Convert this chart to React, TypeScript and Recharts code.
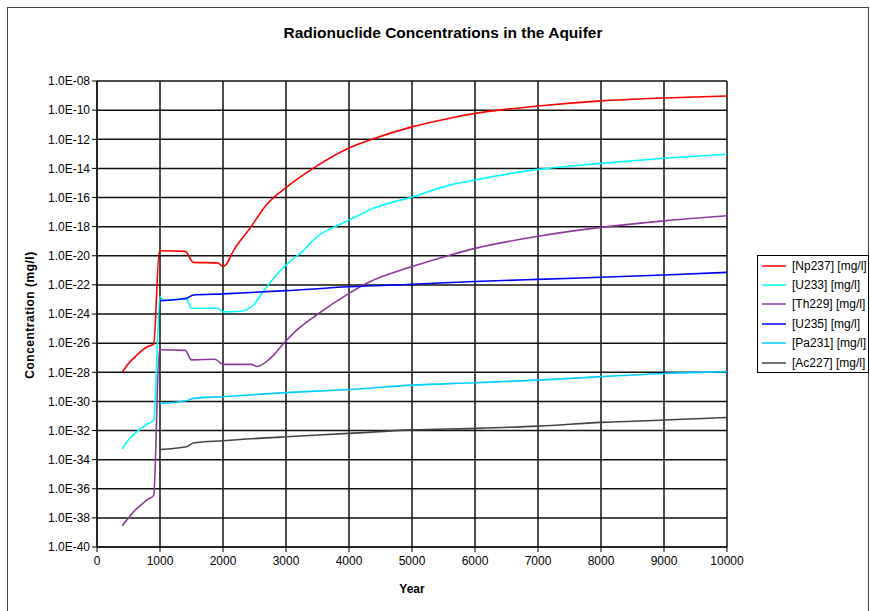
import React from 'react';
import { LineChart, Line, XAxis, YAxis, CartesianGrid } from 'recharts';

// ---- Data ----
const np237Years = [400, 500, 600, 700, 800, 900, 990, 1400, 1530, 1920, 2000, 2050, 2160, 2430, 2690, 3020, 3430, 4000, 4390, 5000, 5600, 6000, 7000, 8000, 9000, 10000];
const np237Values = [1.0e-28, 4.0e-28, 1.1e-27, 2.8e-27, 5.6e-27, 8.9e-27, 2.2e-20, 2.0e-20, 3.5e-21, 3.2e-21, 1.8e-21, 2.5e-21, 2.0e-20, 7.9e-19, 3.2e-17, 5.6e-16, 1.0e-14, 2.5e-13, 1.1e-12, 7.1e-12, 2.8e-11, 6.0e-11, 1.9e-10, 4.3e-10, 6.8e-10, 9.3e-10];

const u233Years = [400, 500, 600, 700, 800, 900, 1000, 1050, 1420, 1500, 1920, 2000, 2300, 2480, 2640, 2850, 3060, 3250, 3490, 3800, 4000, 4390, 5000, 5600, 6000, 7000, 8000, 9000, 10000];
const u233Values = [5.4e-34, 2.2e-33, 6.3e-33, 1.4e-32, 2.8e-32, 5.0e-32, 1.6e-23, 8.9e-24, 1.1e-23, 2.5e-24, 2.5e-24, 1.4e-24, 1.6e-24, 4.0e-24, 3.5e-23, 5.0e-22, 4.0e-21, 1.8e-20, 2.0e-19, 1.1e-18, 2.8e-18, 1.8e-17, 1.1e-16, 7.1e-16, 1.6e-15, 8.5e-15, 2.2e-14, 4.9e-14, 9.3e-14];

const th229Years = [400, 500, 600, 700, 800, 900, 990, 1400, 1500, 1870, 2000, 2450, 2540, 2750, 2990, 3170, 3490, 4000, 4280, 5000, 5600, 6000, 7000, 8000, 9000, 10000];
const th229Values = [2.9e-39, 1.0e-38, 3.2e-38, 7.9e-38, 1.8e-37, 3.5e-37, 3.5e-27, 3.2e-27, 7.1e-28, 7.9e-28, 3.5e-28, 3.5e-28, 2.5e-28, 8.9e-28, 1.3e-26, 7.9e-26, 8.9e-25, 2.6e-23, 1.3e-22, 1.8e-21, 1.1e-20, 3.2e-20, 2.2e-19, 8.9e-19, 2.5e-18, 5.6e-18];

const u235Years = [1000, 1420, 1530, 2000, 3000, 4000, 5000, 6000, 7000, 8000, 9000, 10000];
const u235Values = [8.1e-24, 1.2e-23, 2.0e-23, 2.4e-23, 4.0e-23, 7.4e-23, 1.1e-22, 1.7e-22, 2.4e-22, 3.3e-22, 4.8e-22, 7.2e-22];

const pa231Years = [1000, 1420, 1530, 2000, 3000, 4000, 5000, 6000, 7000, 8000, 9000, 10000];
const pa231Values = [7.2e-31, 1.1e-30, 1.6e-30, 2.1e-30, 4.0e-30, 6.6e-30, 1.3e-29, 1.9e-29, 2.9e-29, 5.0e-29, 8.3e-29, 1.1e-28];

const ac227Years = [1000, 1420, 1530, 2000, 3000, 4000, 5000, 6000, 7000, 8000, 9000, 10000];
const ac227Values = [5.0e-34, 7.6e-34, 1.4e-33, 2.0e-33, 3.7e-33, 6.3e-33, 1.1e-32, 1.4e-32, 2.0e-32, 3.6e-32, 5.2e-32, 7.9e-32];

const xTicks = [0, 1000, 2000, 3000, 4000, 5000, 6000, 7000, 8000, 9000, 10000];
const yTicks = [1e-8, 1e-10, 1e-12, 1e-14, 1e-16, 1e-18, 1e-20, 1e-22, 1e-24, 1e-26, 1e-28, 1e-30, 1e-32, 1e-34, 1e-36, 1e-38, 1e-40];

const seriesNames = ['[Np237] [mg/l]', '[U233] [mg/l]', '[Th229] [mg/l]', '[U235] [mg/l]', '[Pa231] [mg/l]', '[Ac227] [mg/l]'];
const seriesColors = ['#ff0000', '#00ffff', '#8b3a9b', '#0000ff', '#00ccff', '#444444'];

const toPoints = (xs: number[], ys: number[]) => xs.map((x, i) => ({ x, y: ys[i] }));

const series = [
  toPoints(np237Years, np237Values),
  toPoints(u233Years, u233Values),
  toPoints(th229Years, th229Values),
  toPoints(u235Years, u235Values),
  toPoints(pa231Years, pa231Values),
  toPoints(ac227Years, ac227Values),
];

const FONT = '"Liberation Sans", Arial, sans-serif';

const fmtY = (v: number) => {
  const e = Math.round(Math.log10(v));
  const sign = e < 0 ? '-' : '+';
  return `1.0E${sign}${String(Math.abs(e)).padStart(2, '0')}`;
};

export default function App() {
  return (
    <div
      style={{
        position: 'absolute',
        left: 7,
        top: 7,
        width: 860,
        height: 603,
        border: '1px solid #444',
        borderBottom: 'none',
        background: '#fff',
        fontFamily: FONT,
      }}
    >
      <div
        style={{
          position: 'absolute',
          left: 0,
          top: 16,
          width: 870,
          textAlign: 'center',
          fontWeight: 'bold',
          fontSize: 15.5,
          color: '#000',
        }}
      >
        Radionuclide Concentrations in the Aquifer
      </div>
      <div
        style={{
          position: 'absolute',
          left: 22 - 100,
          top: 307 - 8,
          width: 200,
          textAlign: 'center',
          fontWeight: 'bold',
          fontSize: 12,
          letterSpacing: 0.5,
          transform: 'rotate(-90deg)',
          color: '#000',
          lineHeight: '16px',
        }}
      >
        Concentration (mg/l)
      </div>
      <div
        style={{
          position: 'absolute',
          left: 404 - 50,
          top: 574,
          width: 100,
          textAlign: 'center',
          fontWeight: 'bold',
          fontSize: 12,
          color: '#000',
        }}
      >
        Year
      </div>
      <div
        style={{
          position: 'absolute',
          left: 749,
          top: 247,
          width: 112,
          border: '1px solid #000',
          background: '#fff',
          fontFamily: FONT,
          fontSize: 12,
          color: '#000',
          boxSizing: 'border-box',
          zIndex: 2,
        }}
      >
        {seriesNames.map((n, i) => (
          <div key={n} style={{ height: 19.4, display: 'flex', alignItems: 'center', whiteSpace: 'nowrap' }}>
            <svg width={30} height={6} style={{ marginLeft: 4, flex: 'none' }}>
              <line x1={0} y1={3} x2={24} y2={3} stroke={seriesColors[i]} strokeWidth={1.5} />
            </svg>
            <span>{n}</span>
          </div>
        ))}
      </div>
      <LineChart
        width={860}
        height={603}
        margin={{ top: 73, right: 141, bottom: 34, left: 0 }}
      >
        <CartesianGrid stroke="#111" strokeWidth={1.5} />
        <XAxis
          type="number"
          dataKey="x"
          domain={[0, 10000]}
          ticks={xTicks}
          interval={0}
          height={30}
          allowDataOverflow
          stroke="#000"
          tickSize={5}
          tick={{ fontSize: 12, fill: '#000', fontFamily: FONT }}
          tickMargin={4}
        />
        <YAxis
          type="number"
          dataKey="y"
          scale="log"
          domain={[1e-40, 1e-8]}
          ticks={yTicks}
          interval={0}
          allowDataOverflow
          width={89}
          stroke="#000"
          tickSize={5}
          tickFormatter={fmtY}
          tick={{ fontSize: 12, fill: '#000', fontFamily: FONT }}
        />
        {series.map((d, i) => (
          <Line
            key={seriesNames[i]}
            data={d}
            dataKey="y"
            name={seriesNames[i]}
            type="monotone"
            stroke={seriesColors[i]}
            strokeWidth={1.6}
            dot={false}
            activeDot={false}
            isAnimationActive={false}
          />
        ))}
      </LineChart>
    </div>
  );
}
